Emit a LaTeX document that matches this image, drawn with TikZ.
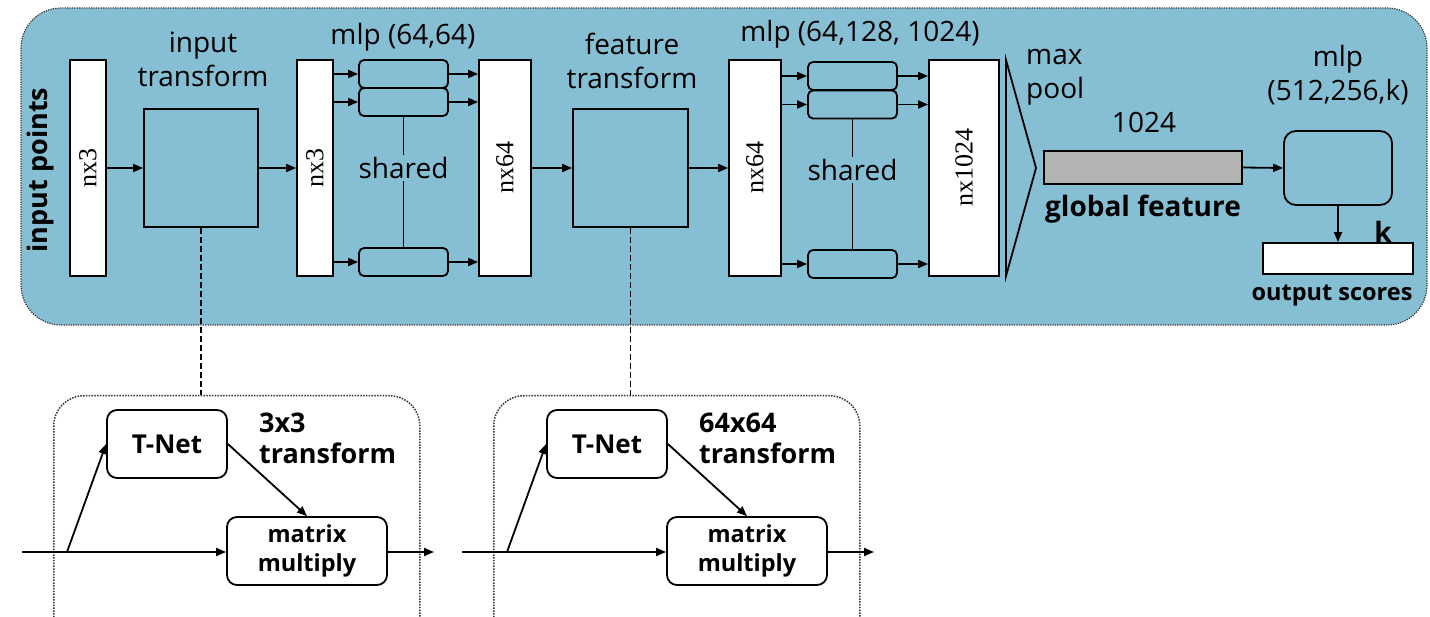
\documentclass[tikz,border=0pt]{standalone}
\usepackage{fontspec}
\setmainfont{Open Sans}
\newfontfamily\dimfont{Liberation Serif}
\usetikzlibrary{arrows.meta}
\definecolor{netblue}{RGB}{134,191,212}
\definecolor{featgray}{RGB}{179,179,179}
\definecolor{framegray}{RGB}{50,50,50}
\tikzset{
  col/.style={draw=black, fill=white, inner sep=0pt, line width=1.8pt},
  dimlabel/.style={rotate=90, font=\dimfont\fontsize{26}{28}\selectfont},
  tbox/.style={draw=black, inner sep=0pt, line width=1.8pt},
  mlpbox/.style={draw=black, inner sep=0pt, line width=1.8pt, rounded corners=5pt, minimum width=89pt, minimum height=28pt},
  rbox/.style={draw=black, fill=white, inner sep=0pt, line width=1.8pt, rounded corners=10pt},
  lbl/.style={inner sep=0pt, align=center, font=\fontsize{28}{34}\selectfont},
  blbl/.style={inner sep=0pt, align=center, font=\fontsize{27}{31}\selectfont\bfseries},
  frame/.style={draw=framegray, line width=1.5pt, dash pattern=on 1.5pt off 1.3pt, rounded corners=30pt, inner sep=0pt},
  link/.style={draw=black, line width=1.5pt, dash pattern=on 6pt off 3pt},
  arr/.style={draw=black, line width=1.8pt, -{Triangle[length=10pt,width=8pt]}},
}
\begin{document}
\begin{tikzpicture}[x=1pt, y=-1pt]
\useasboundingbox (0,0) rectangle (1430,617);
\begin{scope}
\clip (0,0) rectangle (1430,617);

% network background
\path[fill=netblue, draw=framegray, line width=1.2pt, dash pattern=on 1.2pt off 1.2pt, rounded corners=40pt]
  (21,8) rectangle (1427,325);

\node[rotate=90, inner sep=0pt, font=\fontsize{27}{30}\selectfont\bfseries] (inpts) at (40,170) {input points};

% input transform stage
\node[col, minimum width=36pt, minimum height=216pt] (nx3a) at (88,168) {};
\node[dimlabel] (nx3al) at (nx3a.center) {nx3};
\node[tbox, minimum width=114pt, minimum height=118pt] (tin) at (201,168) {};
\node[lbl] (tinl) at (203,59) {input\\transform};
\node[col, minimum width=36pt, minimum height=216pt] (nx3b) at (315,168) {};
\node[dimlabel] (nx3bl) at (nx3b.center) {nx3};
\draw[arr] (nx3a.east) -- (tin.west);
\draw[arr] (tin.east) -- (nx3b.west);

% mlp (64,64)
\node[lbl] (mlp1l) at (403,37) {mlp (64,64)};
\node[mlpbox] (m1a) at (403.5,74) {};
\node[mlpbox] (m1b) at (403.5,102) {};
\node[mlpbox] (m1c) at (403.5,262) {};
\draw[line width=1.8pt] (m1b.south) -- (m1c.north);
\node[lbl, fill=netblue, inner sep=2pt] (sh1) at (403.5,168) {shared};
\node[col, minimum width=52pt, minimum height=216pt] (nx64a) at (505,168) {};
\node[dimlabel] (nx64al) at (nx64a.center) {nx64};
\foreach \b in {m1a,m1b,m1c}{
  \draw[arr] (nx3b.east |- \b.west) -- (\b.west);
  \draw[arr] (\b.east) -- (nx64a.west |- \b.east);
}

% feature transform stage
\node[tbox, minimum width=115pt, minimum height=118pt] (ftr) at (630.5,168) {};
\node[lbl] (ftrl) at (632,61) {feature\\transform};
\node[col, minimum width=52pt, minimum height=216pt] (nx64b) at (755,168) {};
\node[dimlabel] (nx64bl) at (nx64b.center) {nx64};
\draw[arr] (nx64a.east) -- (ftr.west);
\draw[arr] (ftr.east) -- (nx64b.west);

% mlp (64,128,1024)
\node[lbl] (mlp2l) at (860,34) {mlp (64,128, 1024)};
\node[mlpbox] (m2a) at (852.5,76) {};
\node[mlpbox] (m2b) at (852.5,104.5) {};
\node[mlpbox] (m2c) at (852.5,264) {};
\draw[line width=1.8pt] (m2b.south) -- (m2c.north);
\node[lbl, fill=netblue, inner sep=2pt] (sh2) at (852.5,170) {shared};
\node[col, minimum width=70pt, minimum height=216pt] (nx1024) at (964,168) {};
\node[dimlabel] (nx1024l) at (nx1024.center) {nx1024};
\foreach \b in {m2a,m2b,m2c}{
  \draw[arr] (nx64b.east |- \b.west) -- (\b.west);
  \draw[arr] (\b.east) -- (nx1024.west |- \b.east);
}

% max pool
\coordinate (mpa) at (1006,60);
\coordinate (mpb) at (1036,168);
\coordinate (mpc) at (1006,276);
\draw[line width=1.8pt, line join=miter] (mpa) -- (mpb) -- (mpc) -- cycle;
\node[lbl, align=left, anchor=west] (mpl) at (1026,77) {max\\pool};

% global feature and classifier
\node[lbl] (gfn) at (1144,122) {1024};
\node[draw=black, fill=featgray, line width=1.8pt, inner sep=0pt, minimum width=198pt, minimum height=33pt] (gf) at (1143,167.5) {};
\node[inner sep=0pt, font=\fontsize{28}{32}\selectfont\bfseries] (gfl) at (1143,209) {global feature};
\node[lbl] (mlp3l) at (1338,75) {mlp\\(512,256,k)};
\node[draw=black, line width=1.8pt, inner sep=0pt, rounded corners=12pt, minimum width=108pt, minimum height=74pt] (m3) at (1338,168) {};
\node[col, minimum width=150pt, minimum height=31pt] (out) at (1338,258.5) {};
\node[inner sep=0pt, font=\fontsize{28}{32}\selectfont\bfseries] (kl) at (1383,232) {k};
\node[inner sep=0pt, font=\fontsize{23.5}{28}\selectfont\bfseries] (outl) at (1332,296) {output scores};
\draw[arr] (gf.east) -- (m3.west);
\draw[arr] (m3.south) -- (out.north);

% transform sub-networks
\foreach \dx/\nm/\txt/\src in {0/a/3x3/tin, 440/b/64x64/ftr}{
  \begin{scope}[xshift=\dx pt]
    \node[frame, anchor=north west, minimum width=366pt, minimum height=280pt] (fr\nm) at (53,395) {};
    \node[rbox, minimum width=120pt, minimum height=68pt, font=\fontsize{26}{30}\selectfont\bfseries] (tn\nm) at (167,444) {T-Net};
    \node[blbl, align=left, anchor=west] (tx\nm) at (259,438) {\txt\\transform};
    \node[rbox, minimum width=160pt, minimum height=68pt, align=center, font=\fontsize{23.5}{29}\selectfont\bfseries] (mm\nm) at (307,551) {matrix\\multiply};
    \coordinate (in\nm) at (22,552);
    \coordinate (br\nm) at (67,552);
    \coordinate (ot\nm) at (434,552);
    \draw[arr] (in\nm) -- (mm\nm.west |- in\nm);
    \draw[arr] (br\nm) -- (tn\nm.west);
    \draw[arr] (tn\nm.east) -- (mm\nm.north);
    \draw[arr] (mm\nm.east |- ot\nm) -- (ot\nm);
  \end{scope}
  \draw[link] (\src.south) -- (\src.south |- fr\nm.north);
}
\end{scope}
\end{tikzpicture}
\end{document}
